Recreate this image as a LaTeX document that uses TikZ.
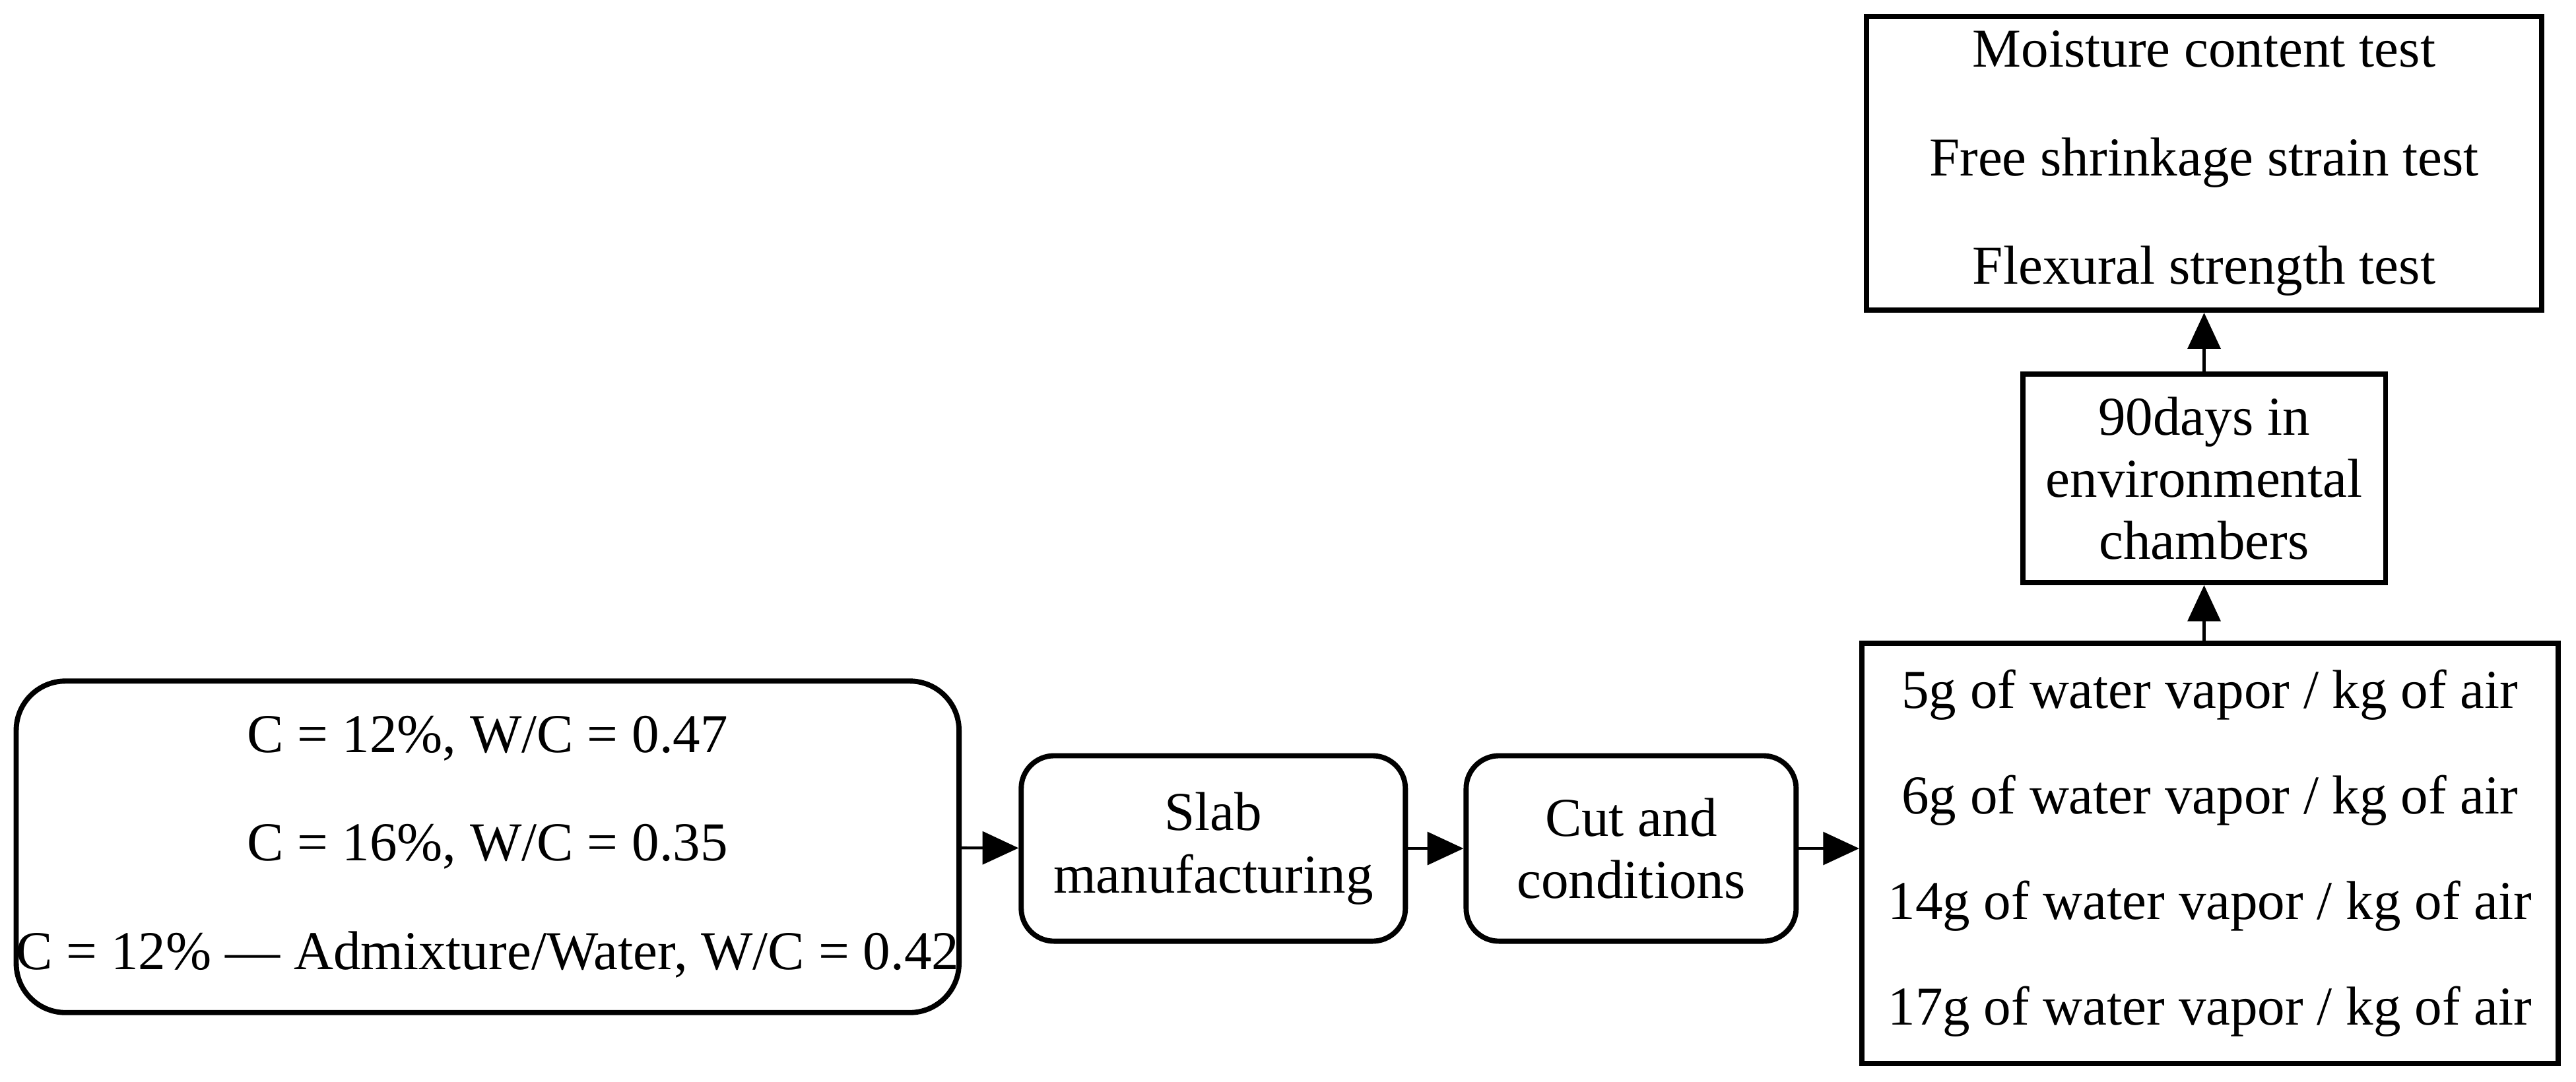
\documentclass[tikz,border=0pt]{standalone}
\usepackage{fontspec}
\setmainfont{Liberation Serif}
\usetikzlibrary{arrows.meta, positioning}

\begin{document}
\begin{tikzpicture}[
                stage/.style={rectangle, rounded corners=0.2cm, text centered, draw, line width=0.9pt, align=center, font=\fontsize{9.5}{10.8}\selectfont, inner sep=0pt},
                sharp/.style={rectangle, text centered, draw, line width=0.9pt, align=center, font=\fontsize{9.5}{10.8}\selectfont, inner sep=0pt},
                flow/.style={draw, line width=0.5pt, -{Triangle[length=0.22cm, width=0.2cm]}}
            ]
            \useasboundingbox (0,0) rectangle (15.69,6.59);

            \node (mix) at (2.97,1.43) [stage, rounded corners=0.3cm, minimum width=5.70cm, minimum height=2.02cm] {C = 12\%, W/C = 0.47 \\[8pt] C = 16\%, W/C = 0.35 \\[8pt] C = 12\% --- Admixture/Water, W/C = 0.42};
            \node (slab) at (7.39,1.42) [stage, minimum width=2.34cm, minimum height=1.13cm] {Slab \\ manufacturing};
            \node (cut) at (9.935,1.42) [stage, minimum width=2.01cm, minimum height=1.13cm] {Cut and \\ conditions};
            \node (vapor) at (13.46,1.39) [sharp, minimum width=4.24cm, minimum height=2.56cm] {5g of water vapor / kg of air \\[7.5pt] 6g of water vapor / kg of air \\[7.5pt] 14g of water vapor / kg of air \\[7.5pt] 17g of water vapor / kg of air};
            \node (chamber) at (13.425,3.675) [sharp, minimum width=2.21cm, minimum height=1.27cm] {90days in \\ environmental \\ chambers};
            \node (tests) at (13.425,5.595) [sharp, minimum width=4.11cm, minimum height=1.79cm] {Moisture content test \\[8pt] Free shrinkage strain test \\[8pt] Flexural strength test};

            \draw [flow] (mix) -- (slab);
            \draw [flow] (slab) -- (cut);
            \draw [flow] (cut) -- (cut -| vapor.west);
            \draw [flow] (vapor.north -| chamber) -- (chamber);
            \draw [flow] (chamber) -- (tests);
\end{tikzpicture}
\end{document}
